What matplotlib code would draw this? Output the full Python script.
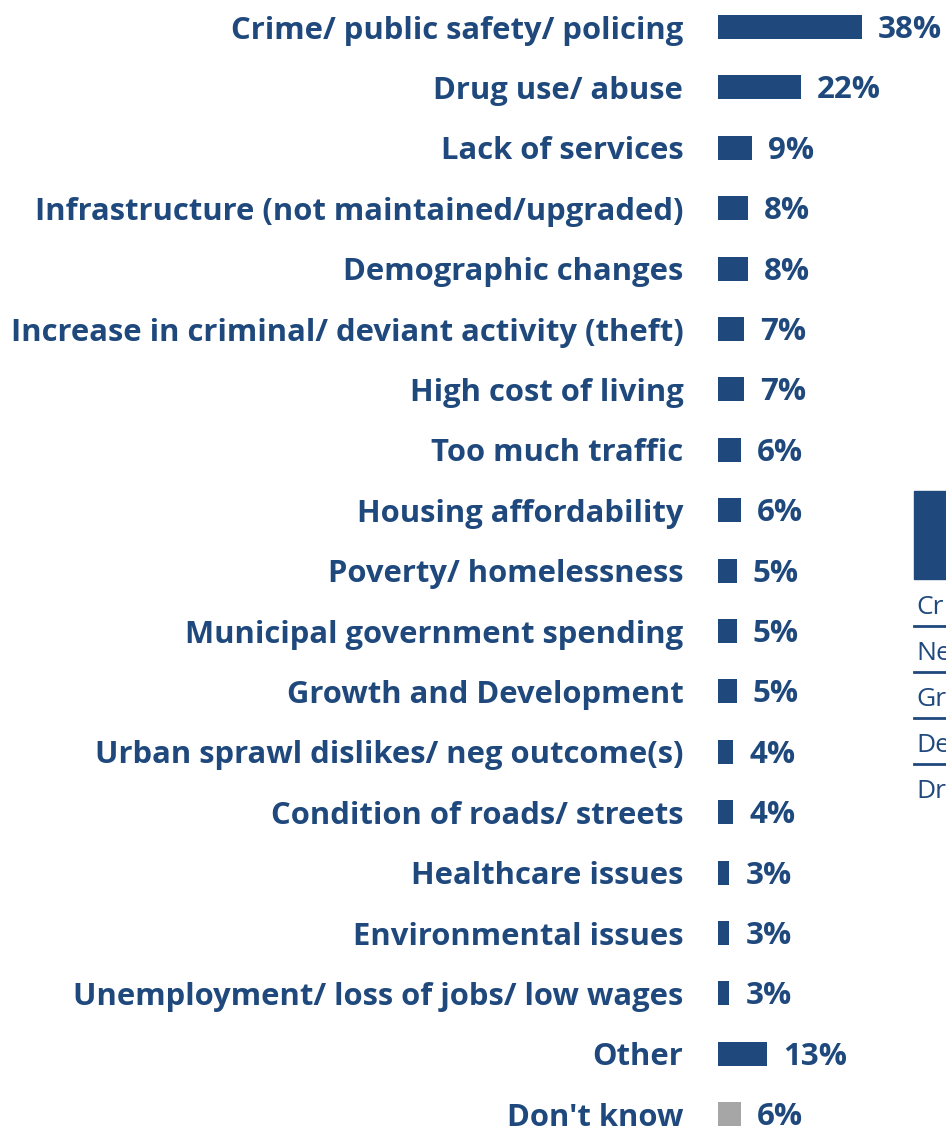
import matplotlib
matplotlib.use("Agg")
import matplotlib.pyplot as plt
from matplotlib.patches import Rectangle
from matplotlib.lines import Line2D

categories = [
    "Crime/ public safety/ policing",
    "Drug use/ abuse",
    "Lack of services",
    "Infrastructure (not maintained/upgraded)",
    "Demographic changes",
    "Increase in criminal/ deviant activity (theft)",
    "High cost of living",
    "Too much traffic",
    "Housing affordability",
    "Poverty/ homelessness",
    "Municipal government spending",
    "Growth and Development",
    "Urban sprawl dislikes/ neg outcome(s)",
    "Condition of roads/ streets",
    "Healthcare issues",
    "Environmental issues",
    "Unemployment/ loss of jobs/ low wages",
    "Other",
    "Don't know",
]
values = [38, 22, 9, 8, 8, 7, 7, 6, 6, 5, 5, 5, 4, 4, 3, 3, 3, 13, 6]
value_labels = [f"{v}%" for v in values]
side_fragments = ["Cr", "Ne", "Gr", "De", "Dr"]

BLUE = "#1F497D"
GRAY = "#A6A6A6"
colors = [BLUE] * (len(values) - 1) + [GRAY]

W, H = 946, 1129
fig = plt.figure(figsize=(W / 100, H / 100), dpi=100)
plt.rcParams['font.family'] = ['Open Sans', 'DejaVu Sans']

x0 = 718
pxper = 3.78
row0, step = 27, 60.4
ax = fig.add_axes([x0 / W, 0, (W - x0) / W, 1])
ax.set_xlim(0, (W - x0) / pxper)
ax.set_ylim((H - row0) / step, -row0 / step)
ypos = list(range(len(categories)))
ax.barh(ypos, values, height=24 / step, color=colors)
for y, v, lab in zip(ypos, values, value_labels):
    ax.annotate(lab, (v, y), xytext=(16, -3), textcoords="offset pixels",
                va="center", ha="left", fontsize=22.5, fontweight="bold", color=BLUE)
ax.set_yticks(ypos)
ax.set_yticklabels(categories, fontsize=22.3, fontweight="bold", color=BLUE)
ax.tick_params(axis="y", length=0, pad=25)
ax.set_xticks([])
for s in ax.spines.values():
    s.set_visible(False)
ax.patch.set_visible(False)

# partial element at right edge
fig.patches.append(Rectangle((914 / W, 1 - 579 / H), 40 / W, 88 / H,
                             transform=fig.transFigure, color=BLUE))
tops = [607, 653, 699, 745, 791]
for i, (t, y) in enumerate(zip(side_fragments, tops)):
    fig.text(916 / W, 1 - y / H, t, fontsize=19, color=BLUE, va="center", ha="left")
    if i < 4:
        yl = 1 - (y + 19) / H
        fig.lines.append(Line2D([914 / W, 1], [yl, yl], transform=fig.transFigure,
                                color=BLUE, lw=2))

fig.savefig("out.png", dpi=100)
